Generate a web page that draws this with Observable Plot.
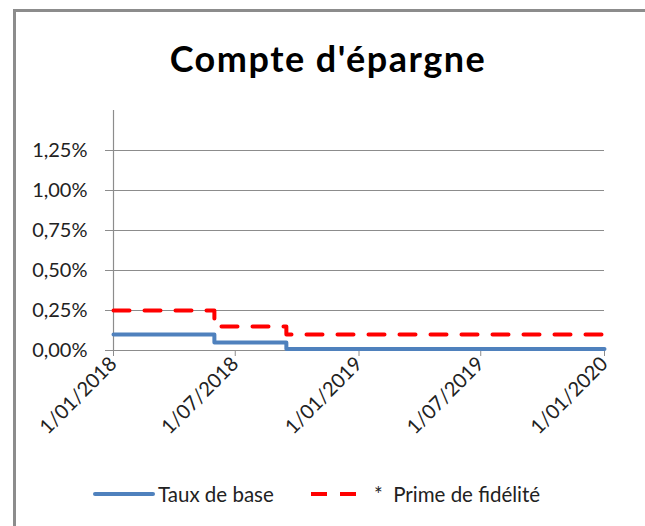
<!DOCTYPE html>
<html>
<head>
<meta charset="utf-8">
<script src="https://cdn.jsdelivr.net/npm/d3@7"></script>
<script src="https://cdn.jsdelivr.net/npm/@observablehq/plot@0.6"></script>
<style>
  html, body { margin: 0; padding: 0; background: #fff; overflow: hidden; }
  #wrap { position: relative; width: 645px; height: 526px; overflow: hidden; font-family: Lato, "Open Sans", sans-serif; }
  #border { position: absolute; left: 0; top: 0; }
  #title { position: absolute; left: 0; width: 656px; top: 40px; text-align: center; font-weight: bold; font-size: 36px; letter-spacing: 1.5px; color: #000; line-height: 1; }
  #chart { position: absolute; left: 0; top: 90px; }
  #legend { position: absolute; left: 0; top: 481px; width: 645px; height: 30px; font-size: 20.5px; color: #222; }
  .lg { position: absolute; top: 0; line-height: 26px; white-space: pre; }
</style>
</head>
<body>
<div id="wrap">
  <svg id="border" width="645" height="526">
    <path d="M14.5,526 V10.5 H645" fill="none" stroke="#8c8c8c" stroke-width="3"/>
  </svg>
  <div id="title">Compte d'épargne</div>
  <div id="chart"></div>
  <div id="legend"></div>
</div>
<script>
// Data (rates in %)
const dates = ["2018-01-01", "2018-05-31", "2018-09-15", "2020-01-01"];
const tauxDeBase = [0.10, 0.05, 0.01, 0.01];
const primeFidelite = [0.25, 0.15, 0.10, 0.10];
const seriesNames = ["Taux de base", "*  Prime de fidélité"];
const yTicks = [0, 0.25, 0.5, 0.75, 1.0, 1.25];
const xTicks = ["2018-01-01", "2018-07-01", "2019-01-01", "2019-07-01", "2020-01-01"];

const parse = d3.utcParse("%Y-%m-%d");
const base = dates.map((d, i) => ({date: parse(d), value: tauxDeBase[i]}));
const prime = dates.map((d, i) => ({date: parse(d), value: primeFidelite[i]}));
const xTickDates = xTicks.map(parse);
const fmtPct = v => v.toFixed(2).replace(".", ",") + "%";
const fmtDate = d => `${d.getUTCDate()}/${String(d.getUTCMonth() + 1).padStart(2, "0")}/${d.getUTCFullYear()}`;

const blue = "#4f81bd";
const red = "#ff0000";
const grid = "#8c8c8c";

const plot = Plot.plot({
  width: 645,
  height: 380,
  marginTop: 20,
  marginBottom: 120,
  marginLeft: 113,
  marginRight: 41,
  style: {fontFamily: "Lato, 'Open Sans', sans-serif", fontSize: "20px", color: "#222", background: "transparent", overflow: "visible"},
  x: {type: "utc", domain: [parse("2018-01-01"), parse("2020-01-01")]},
  y: {domain: [0, 1.5]},
  marks: [
    Plot.ruleY(yTicks, {stroke: grid, strokeWidth: 1.2, strokeOpacity: 1}),
    Plot.ruleX([parse("2018-01-01")], {stroke: grid, strokeWidth: 1.2}),
    Plot.axisY({ticks: yTicks, tickSize: 8, text: null, stroke: grid, strokeOpacity: 1, label: null}),
    Plot.axisY({ticks: yTicks, tickSize: 0, tickPadding: 26, tickFormat: fmtPct, fill: "#222", label: null}),
    Plot.axisX({ticks: xTickDates, tickSize: 6, text: null, stroke: grid, strokeOpacity: 1, label: null}),
    Plot.axisX({ticks: xTickDates, tickSize: 0, tickPadding: 10, tickRotate: -45, tickFormat: fmtDate, fill: "#222", label: null}),
    Plot.line(prime, {x: "date", y: "value", curve: "step-after", stroke: red, strokeWidth: 4, strokeDasharray: "16,15", strokeLinejoin: "round"}),
    Plot.line(base, {x: "date", y: "value", curve: "step-after", stroke: blue, strokeWidth: 4, strokeLinejoin: "round"})
  ]
});
document.getElementById("chart").appendChild(plot);

// Legend
const legend = document.getElementById("legend");
legend.innerHTML = `
  <svg style="position:absolute;left:0;top:0" width="645" height="30">
    <line x1="95" x2="153" y1="13" y2="13" stroke="${blue}" stroke-width="4" stroke-linecap="round"/>
    <line x1="311" x2="357" y1="13" y2="13" stroke="${red}" stroke-width="4" stroke-dasharray="16,13"/>
  </svg>
  <div class="lg" style="left:158px">${seriesNames[0]}</div>
  <div class="lg" style="left:374px">${seriesNames[1]}</div>`;
</script>
</body>
</html>
